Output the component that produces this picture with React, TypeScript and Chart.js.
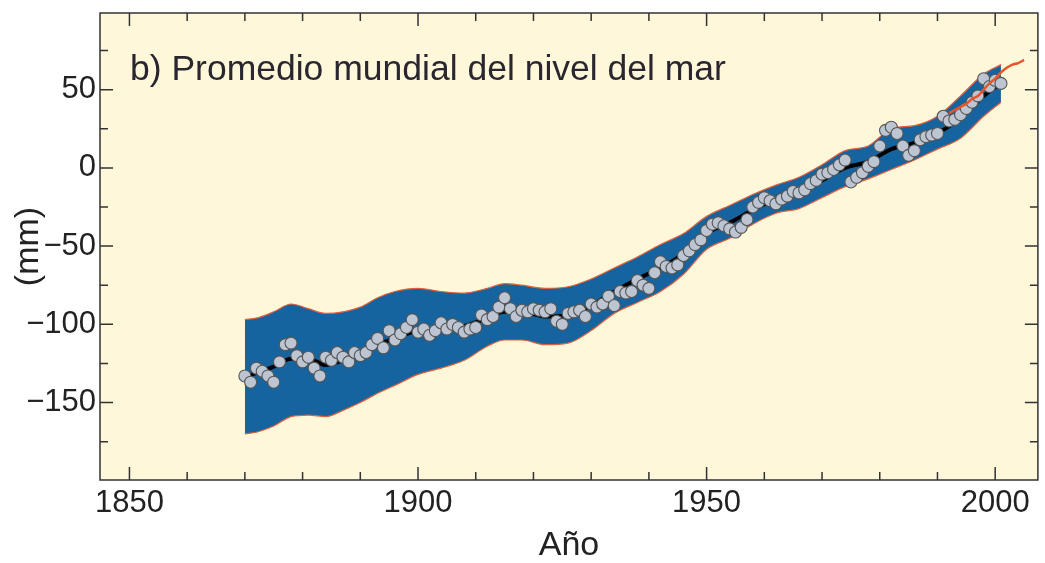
import React, { useEffect, useRef } from 'react';
import { Chart, registerables } from 'chart.js';

Chart.register(...registerables);

// ---------- data ----------
const firstYear = 1870;
// annual global mean sea level (mm), 1870 .. 2001
const seaLevelPoints = [
  -133, -137, -128, -130, -133, -137, -124, -113, -112, -120,
  -124, -121, -128, -133, -121, -123, -118, -121, -124, -118,
  -120, -118, -113, -109, -115, -104, -110, -106, -102, -97,
  -105, -103, -107, -104, -99, -103, -100, -102, -105, -103,
  -102, -94, -97, -95, -89, -83, -90, -95, -91, -92,
  -90, -91, -92, -90, -98, -100, -93, -92, -91, -95,
  -87, -89, -87, -82, -88, -79, -80, -79, -72, -75,
  -77, -67, -60, -63, -64, -62, -56, -53, -49, -46,
  -40, -36, -35, -37, -39, -41, -38, -33, -25, -22,
  -19, -21, -23, -20, -18, -15, -16, -14, -10, -8,
  -4, -3, -1, 2, 5, -9, -6, -3, 1, 4,
  14, 24, 26, 22, 14, 8, 11, 18, 20, 21,
  22, 33, 30, 31, 34, 38, 42, 46, 57, 52,
  56, 54,
];

const bandYears = [
  1870, 1872, 1875, 1878, 1881, 1884, 1887, 1890, 1893, 1896,
  1900, 1904, 1908, 1912, 1915, 1918, 1922, 1926, 1930, 1934,
  1938, 1942, 1946, 1950, 1954, 1958, 1962, 1966, 1970, 1974,
  1978, 1982, 1986, 1990, 1994, 1998, 2001,
];
const bandUpper = [
  -97, -96, -92, -87, -90, -93, -92, -89, -83, -79,
  -77, -79, -80, -77, -74, -75, -77, -76, -71, -64,
  -57, -49, -42, -31, -24, -17, -11, -6, 2, 11,
  14, 25, 27, 33, 46, 60, 66,
];
const bandLower = [
  -170, -169, -165, -159, -158, -159, -155, -150, -144, -139,
  -132, -128, -123, -114, -110, -110, -113, -112, -104, -93,
  -86, -79, -68, -52, -45, -36, -29, -26, -19, -12,
  -7, -1, 5, 12, 19, 33, 42,
];
const meanLine = [
  -134, -131, -127, -122, -122, -126, -123, -119, -113, -109,
  -104, -103, -101, -96, -92, -92, -95, -94, -88, -79,
  -71, -64, -55, -42, -35, -27, -20, -16, -8, 0,
  4, 12, 16, 22, 32, 46, 54,
];

const satelliteYears = [1992, 1993, 1994, 1995, 1996, 1997, 1998, 1999, 2000, 2001, 2002, 2003, 2004, 2005];
const satelliteValues = [35, 37, 39, 41, 44, 46, 50, 54, 57, 61, 64, 66, 67, 69];

const xMajorTicks = [1850, 1900, 1950, 2000];
const xMinorTicks = [1860, 1870, 1880, 1890, 1910, 1920, 1930, 1940, 1960, 1970, 1980, 1990];
const yMajorTicks = [-150, -100, -50, 0, 50];
const yMinorTicks = [-175, -125, -75, -25, 25, 75];

const titleText = 'b) Promedio mundial del nivel del mar';
const xTitle = 'Año';
const yTitle = '(mm)';

// ---------- styles ----------
const FONT = '"Liberation Sans", Arial, Helvetica, sans-serif';
const BG = '#fff7da';
const BAND = '#15649f';
const BAND_EDGE = '#e0603c';
const INK = '#222222';

const toXY = (xs: number[], ys: number[]) => xs.map((x, i) => ({ x, y: ys[i] }));

const framePlugin = {
  id: 'frameAndTicks',
  beforeDraw(chart: any) {
    const { ctx, chartArea: a } = chart;
    ctx.save();
    ctx.fillStyle = BG;
    ctx.fillRect(a.left, a.top, a.right - a.left, a.bottom - a.top);
    ctx.fillStyle = '#2a2630';
    ctx.font = `35.5px ${FONT}`;
    ctx.textBaseline = 'alphabetic';
    ctx.textAlign = 'left';
    ctx.fillText(titleText, a.left + 30, a.top + 67);
    ctx.restore();
  },
  afterDraw(chart: any) {
    const { ctx, chartArea: a, scales } = chart;
    const xs = scales.x;
    const ys = scales.y;
    ctx.save();
    ctx.strokeStyle = '#333';
    ctx.lineWidth = 1.5;
    ctx.strokeRect(a.left, a.top, a.right - a.left, a.bottom - a.top);
    const major = 13;
    const minor = 8;
    ctx.beginPath();
    const xt = (v: number, len: number) => {
      const p = xs.getPixelForValue(v);
      ctx.moveTo(p, a.bottom);
      ctx.lineTo(p, a.bottom - len);
      ctx.moveTo(p, a.top);
      ctx.lineTo(p, a.top + len);
    };
    const yt = (v: number, len: number) => {
      const p = ys.getPixelForValue(v);
      ctx.moveTo(a.left, p);
      ctx.lineTo(a.left + len, p);
      ctx.moveTo(a.right, p);
      ctx.lineTo(a.right - len, p);
    };
    xMajorTicks.forEach((v) => xt(v, major));
    xMinorTicks.forEach((v) => xt(v, minor));
    yMajorTicks.forEach((v) => yt(v, major));
    yMinorTicks.forEach((v) => yt(v, minor));
    ctx.stroke();
    ctx.restore();
  },
};

const fmt = (v: number) => (v < 0 ? '\u2212' + Math.abs(v) : String(v));

export default function App() {
  const ref = useRef<HTMLCanvasElement | null>(null);

  useEffect(() => {
    if (!ref.current) return;
    const points = seaLevelPoints.map((y, i) => ({ x: firstYear + i, y }));
    const chart = new Chart(ref.current, {
      type: 'line',
      data: {
        datasets: [
          {
            label: 'lower',
            data: toXY(bandYears, bandLower),
            borderColor: BAND_EDGE,
            borderWidth: 1.2,
            pointRadius: 0,
            cubicInterpolationMode: 'monotone',
            fill: false,
            order: 4,
          },
          {
            label: 'upper',
            data: toXY(bandYears, bandUpper),
            borderColor: BAND_EDGE,
            borderWidth: 1.2,
            backgroundColor: BAND,
            pointRadius: 0,
            cubicInterpolationMode: 'monotone',
            fill: '-1',
            order: 3,
          },
          {
            label: 'mean',
            data: toXY(bandYears, meanLine),
            borderColor: '#000000',
            borderWidth: 4,
            pointRadius: 0,
            cubicInterpolationMode: 'monotone',
            fill: false,
            order: 2,
          },
          {
            label: 'annual',
            data: points,
            showLine: false,
            pointRadius: 6,
            pointBackgroundColor: '#bcc5d1',
            pointBorderColor: '#555555',
            pointBorderWidth: 1.1,
            fill: false,
            order: 1,
          },
          {
            label: 'satellite',
            data: toXY(satelliteYears, satelliteValues),
            borderColor: '#e8532b',
            borderWidth: 2.5,
            pointRadius: 0,
            tension: 0.3,
            fill: false,
            order: 0,
          },
        ],
      },
      options: {
        responsive: false,
        animation: false,
        events: [],
        layout: { padding: { top: 13, right: 4, bottom: 0, left: 0 } },
        plugins: {
          legend: { display: false },
          tooltip: { enabled: false },
          filler: { drawTime: 'beforeDatasetsDraw', propagate: false },
        },
        scales: {
          x: {
            type: 'linear',
            min: 1844.9,
            max: 2007.4,
            grid: { display: false, drawTicks: false },
            border: { display: false },
            afterBuildTicks: (s: any) => {
              s.ticks = xMajorTicks.map((v) => ({ value: v }));
            },
            afterFit: (s: any) => {
              s.height = 83;
              s.paddingLeft = 0;
              s.paddingRight = 0;
            },
            ticks: {
              padding: 5,
              autoSkip: false,
              maxRotation: 0,
              color: INK,
              font: { family: FONT, size: 31 },
              callback: (v: any) => String(v),
            },
            title: {
              display: true,
              text: xTitle,
              color: INK,
              font: { family: FONT, size: 34, lineHeight: 1 },
              padding: { top: 0, bottom: 0 },
            },
          },
          y: {
            type: 'linear',
            min: -199.5,
            max: 99,
            grid: { display: false, drawTicks: false },
            border: { display: false },
            afterBuildTicks: (s: any) => {
              s.ticks = yMajorTicks.map((v) => ({ value: v }));
            },
            afterFit: (s: any) => {
              s.width = 100;
              s.paddingTop = 0;
              s.paddingBottom = 0;
            },
            ticks: {
              padding: 4,
              color: INK,
              font: { family: FONT, size: 31 },
              callback: (v: any) => fmt(Number(v)),
            },
            title: {
              display: true,
              text: yTitle,
              color: INK,
              font: { family: FONT, size: 34, lineHeight: 1.2 },
              padding: { top: 8, bottom: 0 },
            },
          },
        },
      },
      plugins: [framePlugin],
    } as any);
    return () => chart.destroy();
  }, []);

  return (
    <div style={{ position: 'absolute', left: 0, top: 0, width: 1045, height: 563, background: '#ffffff' }}>
      <canvas ref={ref} width={1045} height={563} style={{ display: 'block', width: 1045, height: 563 }} />
    </div>
  );
}
